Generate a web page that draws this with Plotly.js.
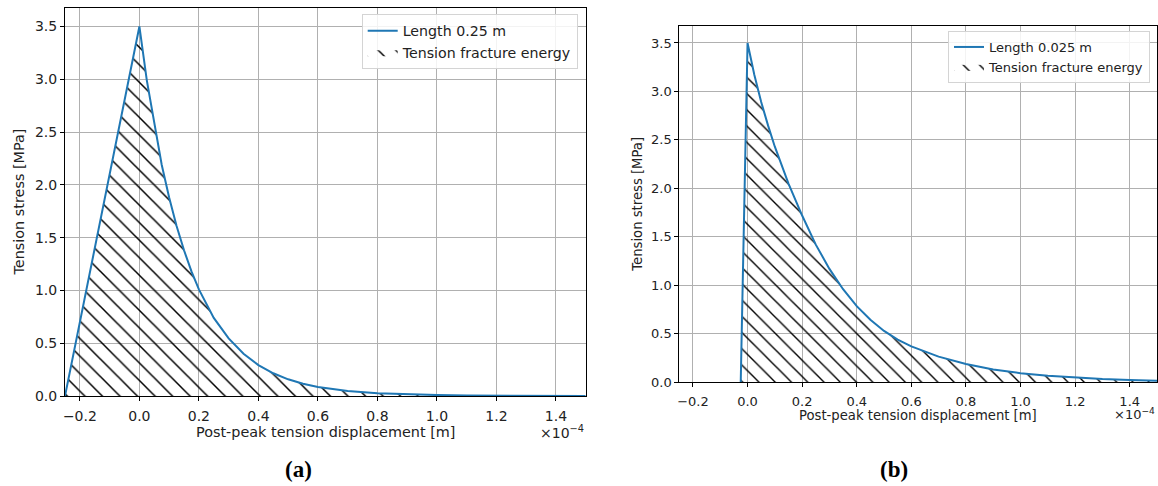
<!DOCTYPE html>
<html><head><meta charset="utf-8">
<script src="https://cdn.plot.ly/plotly-3.0.1.min.js"></script>
<style>html,body{margin:0;padding:0;background:#fff;}#chart{width:1158px;height:486px;}</style>
</head><body><div id="chart"></div>
<script>
// x values in units of 1e-4 m (axis carries the ×10^-4 multiplier), y in MPa
const xA = [-0.25, 0, 0.025, 0.05, 0.075, 0.1, 0.125, 0.15, 0.175, 0.2, 0.25, 0.3, 0.35, 0.4, 0.45, 0.5, 0.55, 0.6, 0.7, 0.8, 0.9, 1.0, 1.1, 1.2, 1.35, 1.5];
const yA = [0, 3.5, 2.99, 2.57, 2.19, 1.88, 1.61, 1.38, 1.18, 1.01, 0.74, 0.545, 0.4, 0.293, 0.215, 0.158, 0.116, 0.086, 0.047, 0.027, 0.015, 0.009, 0.005, 0.003, 0.0015, 0.0008];
const xB = [-0.025, 0, 0.025, 0.05, 0.075, 0.1, 0.15, 0.2, 0.25, 0.3, 0.35, 0.4, 0.45, 0.5, 0.55, 0.6, 0.7, 0.8, 0.9, 1.0, 1.1, 1.2, 1.3, 1.4, 1.5];
const yB = [0, 3.5, 3.17, 2.89, 2.65, 2.43, 2.05, 1.72, 1.42, 1.17, 0.96, 0.785, 0.645, 0.53, 0.44, 0.37, 0.265, 0.188, 0.133, 0.094, 0.067, 0.048, 0.034, 0.024, 0.017];
const nameA = 'Length 0.25 m';
const nameB = 'Length 0.025 m';
const hatchName = 'Tension fracture energy';
const xTitle = 'Post-peak tension displacement [m]';
const yTitle = 'Tension stress [MPa]';
const expLabel = '×10<sup>−4</sup>';
const panelLabels = ['(a)', '(b)'];

const W = 1158, H = 486;
const px = v => v / W;
const py = v => 1 - v / H;
const FONT = 'DejaVu Sans, Verdana, sans-serif';
const BLUE = '#1f77b4';

function hatch(size) {
  return {shape: '\\', fgcolor: '#000', bgcolor: 'rgba(0,0,0,0)', size: size, solidity: 0.12, fillmode: 'replace'};
}

const traces = [
  {x: xA, y: yA, xaxis: 'x', yaxis: 'y', mode: 'lines', line: {width: 0, color: 'black'},
   fill: 'tozeroy', fillcolor: 'rgba(0,0,0,0)', fillpattern: hatch(12.4),
   name: hatchName, legend: 'legend', legendrank: 2, hoverinfo: 'skip'},
  {x: xA, y: yA, xaxis: 'x', yaxis: 'y', mode: 'lines', line: {width: 2, color: BLUE},
   name: nameA, legend: 'legend', legendrank: 1},
  {x: xB, y: yB, xaxis: 'x2', yaxis: 'y2', mode: 'lines', line: {width: 0, color: 'black'},
   fill: 'tozeroy', fillcolor: 'rgba(0,0,0,0)', fillpattern: hatch(11.5),
   name: hatchName, legend: 'legend2', legendrank: 2, hoverinfo: 'skip'},
  {x: xB, y: yB, xaxis: 'x2', yaxis: 'y2', mode: 'lines', line: {width: 2, color: BLUE},
   name: nameB, legend: 'legend2', legendrank: 1}
];

function xax(d, anchor, fs) {
  return {domain: d, anchor: anchor, range: [-0.25, 1.5], tick0: 0, dtick: 0.2, tickformat: '.1f',
    showgrid: true, gridcolor: '#b0b0b0', gridwidth: 1, zeroline: false,
    showline: true, mirror: true, linecolor: '#000', linewidth: 1,
    ticks: 'outside', ticklen: 4, tickcolor: '#000', tickwidth: 1, ticklabelstandoff: 3,
    tickfont: {family: FONT, size: fs, color: '#222'}};
}
function yax(d, anchor, fs) {
  return {domain: d, anchor: anchor, range: [0, 3.675], tick0: 0, dtick: 0.5, tickformat: '.1f',
    showgrid: true, gridcolor: '#b0b0b0', gridwidth: 1, zeroline: false,
    showline: true, mirror: true, linecolor: '#000', linewidth: 1,
    ticks: 'outside', ticklen: 4, tickcolor: '#000', tickwidth: 1,
    tickfont: {family: FONT, size: fs, color: '#222'}};
}

function leg(xr, yt, fs) {
  return {x: px(xr), xanchor: 'right', y: py(yt), yanchor: 'top',
    bgcolor: 'rgba(255,255,255,0.85)', bordercolor: '#d4d4d4', borderwidth: 1,
    font: {family: FONT, size: fs, color: '#222'}, traceorder: 'normal'};
}

const ann = (text, x, y, fs, opts) => Object.assign({
  text: text, xref: 'paper', yref: 'paper', x: px(x), y: py(y), showarrow: false,
  font: {family: FONT, size: fs, color: '#222'}, xanchor: 'center', yanchor: 'middle'}, opts || {});

const layout = {
  width: W, height: H, margin: {l: 0, r: 0, t: 0, b: 0},
  paper_bgcolor: '#fff', plot_bgcolor: '#fff', showlegend: true,
  xaxis: xax([px(65), px(585.7)], 'y', 14),
  yaxis: yax([py(396), py(8)], 'x', 14),
  xaxis2: xax([px(679.3), px(1157)], 'y2', 13),
  yaxis2: yax([py(382.3), py(26)], 'x2', 13),
  legend: leg(577.7, 14, 14.2),
  legend2: leg(1150, 31, 13),
  annotations: [
    ann(xTitle, 325.3, 432, 14.4),
    ann(yTitle, 18.5, 202, 14.4, {textangle: -90}),
    ann(expLabel, 586, 432, 14, {xanchor: 'right'}),
    ann(xTitle, 918, 415.5, 13.2),
    ann(yTitle, 636.7, 204, 13.2, {textangle: -90}),
    ann(expLabel, 1157, 414, 13, {xanchor: 'right'}),
    ann('<b>' + panelLabels[0] + '</b>', 298, 469, 23, {font: {family: 'Liberation Serif, serif', size: 23, color: '#000'}}),
    ann('<b>' + panelLabels[1] + '</b>', 894, 469, 23, {font: {family: 'Liberation Serif, serif', size: 23, color: '#000'}})
  ]
};

Plotly.newPlot('chart', traces, layout, {staticPlot: true, displayModeBar: false});
</script></body></html>
